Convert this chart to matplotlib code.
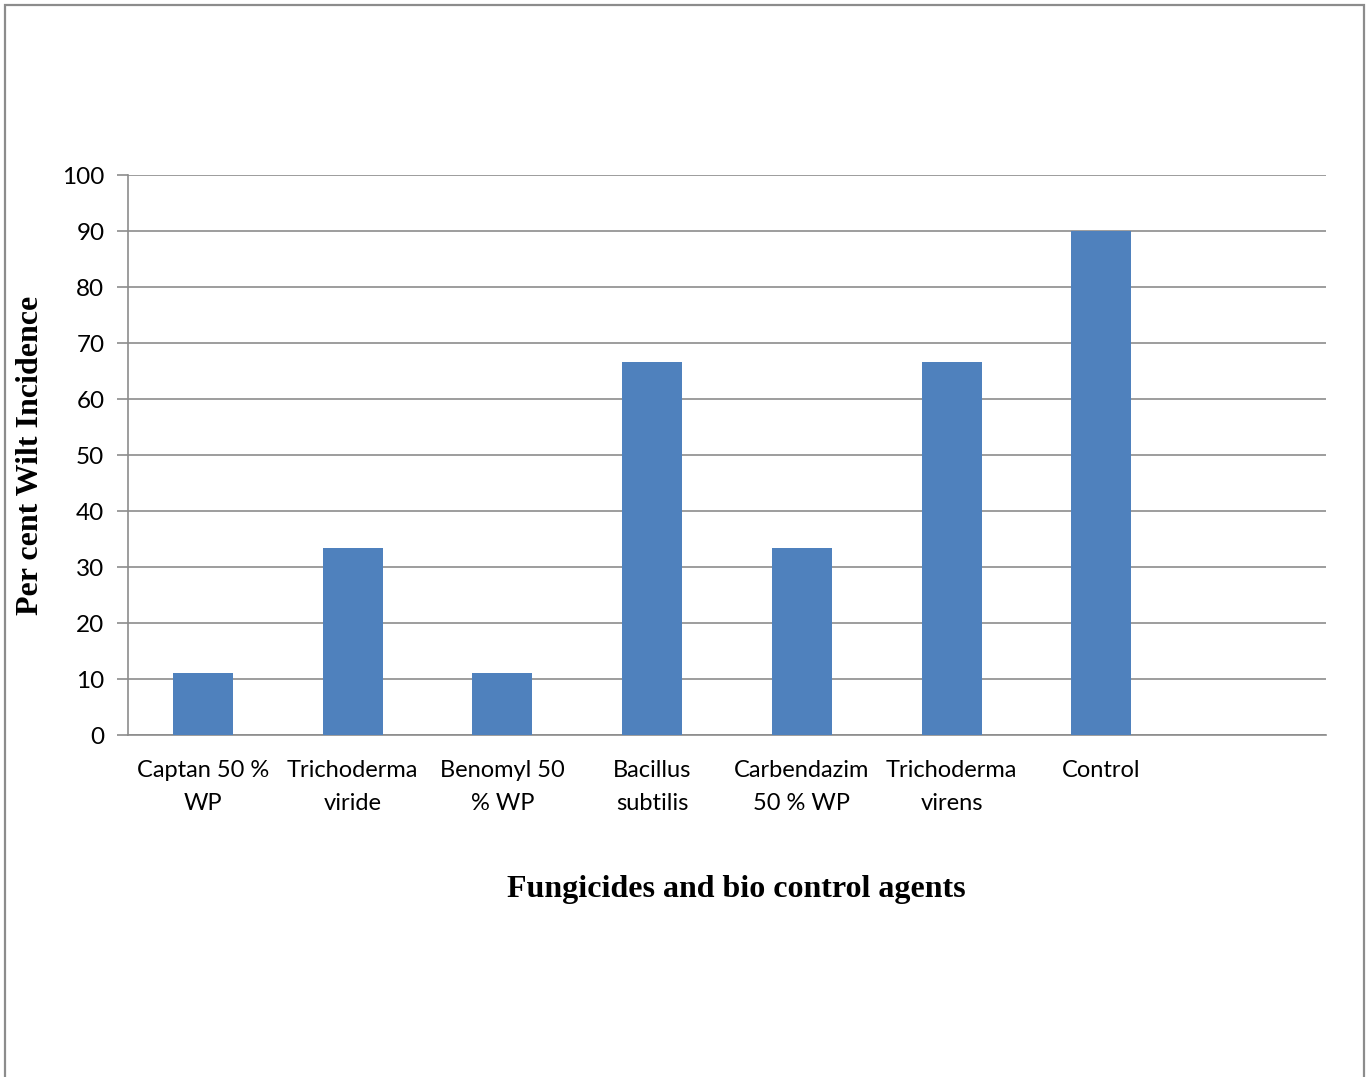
import matplotlib
matplotlib.use("Agg")
import matplotlib.pyplot as plt
from matplotlib.patches import Rectangle

# Wilt incidence per treatment
categories = ["Captan 50 %\nWP", "Trichoderma\nviride", "Benomyl 50\n% WP",
              "Bacillus\nsubtilis", "Carbendazim\n50 % WP", "Trichoderma\nvirens",
              "Control"]
wilt_incidence = [11.11, 33.33, 11.11, 66.67, 33.33, 66.67, 90.0]
y_ticks = [0, 10, 20, 30, 40, 50, 60, 70, 80, 90, 100]

W, H = 1370, 1077
fig = plt.figure(figsize=(W / 100, H / 100), dpi=100)
fig.patch.set_facecolor("white")

# Outer frame
fig.patches.append(Rectangle((5 / W, -0.01), 1359 / W, 1 - 5 / H + 0.01,
                             transform=fig.transFigure, fill=False,
                             edgecolor="#8c8c8c", linewidth=1.6))

left, right, top, bottom = 128, 1326, 175, 735
ax = fig.add_axes([left / W, 1 - bottom / H, (right - left) / W, (bottom - top) / H])

x = list(range(len(categories)))
ax.bar(x, wilt_incidence, width=0.4, color="#4F81BD", zorder=3)

ax.set_xlim(-0.5, len(categories) + 0.5)
ax.set_ylim(0, 100)
ax.set_yticks(y_ticks)
ax.set_xticks(x)
ax.set_xticklabels(categories, fontfamily="Lato", fontsize=17, linespacing=1.72)
ax.tick_params(axis="x", length=0, pad=18)
ax.tick_params(axis="y", length=8, width=1.2, color="#8c8c8c", labelsize=17.5, pad=9)
for lbl in ax.get_yticklabels():
    lbl.set_fontfamily("Lato")

ax.grid(axis="y", color="#8c8c8c", linewidth=1.2, zorder=0)
for side in ["top", "right"]:
    ax.spines[side].set_visible(False)
for side in ["left", "bottom"]:
    ax.spines[side].set_color("#8c8c8c")
    ax.spines[side].set_linewidth(1.2)

fig.text(31 / W, 1 - 455 / H, "Per cent Wilt Incidence", rotation=90,
         ha="center", va="center", fontfamily="Liberation Serif",
         fontweight="bold", fontsize=23)
fig.text(736 / W, 1 - 890 / H, "Fungicides and bio control agents",
         ha="center", va="center", fontfamily="Liberation Serif",
         fontweight="bold", fontsize=23)

fig.savefig("out.png", dpi=100, facecolor="white")
